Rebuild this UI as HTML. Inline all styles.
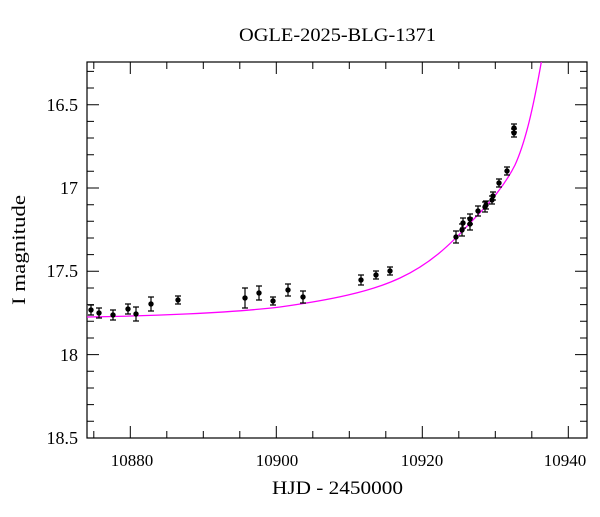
<!DOCTYPE html>
<html><head><meta charset="utf-8"><style>
body{margin:0;background:#fff;}
svg text{font-family:"Liberation Serif",serif;fill:#000;}
</style></head><body>
<svg width="600" height="512" xmlns="http://www.w3.org/2000/svg">
<rect width="600" height="512" fill="#fff"/>
<text x="239" y="41" font-size="19" textLength="197" lengthAdjust="spacingAndGlyphs">OGLE-2025-BLG-1371</text>
<path stroke="#000" stroke-width="1" fill="none" d="
M93.8,438v-7M93.8,62v7
M130.3,438v-12M130.3,62v12
M166.8,438v-7M166.8,62v7
M203.3,438v-7M203.3,62v7
M239.8,438v-7M239.8,62v7
M276.3,438v-12M276.3,62v12
M312.8,438v-7M312.8,62v7
M349.3,438v-7M349.3,62v7
M385.8,438v-7M385.8,62v7
M422.3,438v-12M422.3,62v12
M458.8,438v-7M458.8,62v7
M495.3,438v-7M495.3,62v7
M531.8,438v-7M531.8,62v7
M568.3,438v-12M568.3,62v12
M87,71.4h7M587,71.4h-7
M87,88h7M587,88h-7
M87,104.7h12M587,104.7h-12
M87,121.4h7M587,121.4h-7
M87,138h7M587,138h-7
M87,154.7h7M587,154.7h-7
M87,171.3h7M587,171.3h-7
M87,188h12M587,188h-12
M87,204.7h7M587,204.7h-7
M87,221.3h7M587,221.3h-7
M87,238h7M587,238h-7
M87,254.6h7M587,254.6h-7
M87,271.3h12M587,271.3h-12
M87,288h7M587,288h-7
M87,304.6h7M587,304.6h-7
M87,321.3h7M587,321.3h-7
M87,338h7M587,338h-7
M87,354.6h12M587,354.6h-12
M87,371.3h7M587,371.3h-7
M87,388h7M587,388h-7
M87,404.6h7M587,404.6h-7
M87,421.3h7M587,421.3h-7"/>
<rect x="87" y="62" width="500" height="376" fill="none" stroke="#000" stroke-width="1.2"/>
<g font-size="18" text-anchor="end">
<text x="78" y="111">16.5</text>
<text x="78" y="194">17</text>
<text x="78" y="277">17.5</text>
<text x="78" y="361">18</text>
<text x="78" y="444">18.5</text>
</g>
<g font-size="17" text-anchor="middle">
<text x="132" y="466">10880</text>
<text x="277" y="466">10900</text>
<text x="422" y="466">10920</text>
<text x="565" y="466">10940</text>
</g>
<text x="272" y="494" font-size="19" textLength="131" lengthAdjust="spacingAndGlyphs">HJD - 2450000</text>
<text transform="translate(25,305) rotate(-90)" font-size="19" textLength="110" lengthAdjust="spacingAndGlyphs">I magnitude</text>
<svg x="87" y="62" width="500" height="376" viewBox="87 62 500 376">
<path fill="none" stroke="#ff00ff" stroke-width="1.3" d="M87,317 C150,316 230,313 280,307 C330,300 370,292 400,278 C430,264 450,245 470,223 C490,203 505,185 515,165 C525,143 533,110 542,58"/>
</svg>
<g stroke="#000" stroke-width="1.2">
<path fill="none" d="
M91,305v10M88,305h6M88,315h6
M99,308v10M96,308h6M96,318h6
M113,310v10M110,310h6M110,320h6
M128,304v10M125,304h6M125,314h6
M136,307v14M133,307h6M133,321h6
M151,297v14M148,297h6M148,311h6
M178,296v8M175,296h6M175,304h6
M245,288v20M242,288h6M242,308h6
M259,286v14M256,286h6M256,300h6
M273,297v8M270,297h6M270,305h6
M288,284v12M285,284h6M285,296h6
M303,291v12M300,291h6M300,303h6
M361,275v10M358,275h6M358,285h6
M376,271v8M373,271h6M373,279h6
M390,267v8M387,267h6M387,275h6
M456,231v12M453,231h6M453,243h6
M462,224v12M459,224h6M459,236h6
M463,218v10M460,218h6M460,228h6
M470,218v12M467,218h6M467,230h6
M470,214v10M467,214h6M467,224h6
M478,206v10M475,206h6M475,216h6
M485,202v10M482,202h6M482,212h6
M486,201v8M483,201h6M483,209h6
M492,196v8M489,196h6M489,204h6
M493,192v8M490,192h6M490,200h6
M499,179v8M496,179h6M496,187h6
M507,167v8M504,167h6M504,175h6
M514,129v8M511,129h6M511,137h6
M514,124v8M511,124h6M511,132h6"/>
</g>
<g fill="#000">
<circle cx="91" cy="310" r="2.7"/><circle cx="99" cy="313" r="2.7"/><circle cx="113" cy="315" r="2.7"/>
<circle cx="128" cy="309" r="2.7"/><circle cx="136" cy="314" r="2.7"/><circle cx="151" cy="304" r="2.7"/>
<circle cx="178" cy="300" r="2.7"/><circle cx="245" cy="298" r="2.7"/><circle cx="259" cy="293" r="2.7"/>
<circle cx="273" cy="301" r="2.7"/><circle cx="288" cy="290" r="2.7"/><circle cx="303" cy="297" r="2.7"/>
<circle cx="361" cy="280" r="2.7"/><circle cx="376" cy="275" r="2.7"/><circle cx="390" cy="271" r="2.7"/>
<circle cx="456" cy="237" r="2.7"/><circle cx="462" cy="230" r="2.7"/><circle cx="463" cy="223" r="2.7"/>
<circle cx="470" cy="224" r="2.7"/><circle cx="470" cy="219" r="2.7"/><circle cx="478" cy="211" r="2.7"/>
<circle cx="485" cy="207" r="2.7"/><circle cx="486" cy="205" r="2.7"/><circle cx="492" cy="200" r="2.7"/>
<circle cx="493" cy="196" r="2.7"/><circle cx="499" cy="183" r="2.7"/><circle cx="507" cy="171" r="2.7"/>
<circle cx="514" cy="133" r="2.7"/><circle cx="514" cy="128" r="2.7"/>
</g>
</svg>
</body></html>
